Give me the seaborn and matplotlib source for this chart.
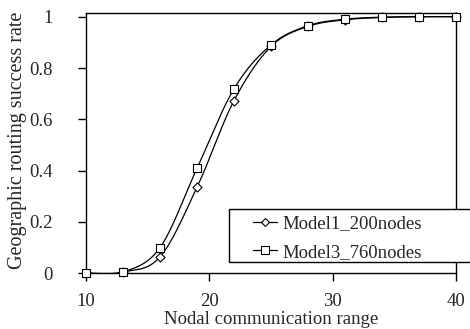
import numpy as np
import pandas as pd
import matplotlib
matplotlib.use("Agg")
import matplotlib.pyplot as plt
import seaborn as sns
from matplotlib.lines import Line2D
from matplotlib.patches import Rectangle

# Routing success rate versus nodal communication range
comm_range = [10, 13, 16, 19, 22, 25, 28, 31, 34, 37, 40]
model1_200 = [0.0, 0.005, 0.064, 0.335, 0.673, 0.884, 0.962, 0.988, 0.997, 1.0, 1.0]
model3_760 = [0.0, 0.005, 0.100, 0.409, 0.719, 0.890, 0.965, 0.990, 0.998, 1.0, 1.0]

series_names = ["Model1_200nodes", "Model3_760nodes"]
x_ticks = [10, 20, 30, 40]
y_ticks = [0, 0.2, 0.4, 0.6, 0.8, 1]
y_tick_labels = ["0", "0.2", "0.4", "0.6", "0.8", "1"]

df = pd.DataFrame({
    "range": comm_range * 2,
    "rate": model1_200 + model3_760,
    "series": [series_names[0]] * len(comm_range) + [series_names[1]] * len(comm_range),
})


def smooth_curve(x, y, n=30):
    """Catmull-Rom spline through the points (spreadsheet-style smoothed line)."""
    x = np.asarray(x, float)
    y = np.asarray(y, float)
    px = np.concatenate([[2 * x[0] - x[1]], x, [2 * x[-1] - x[-2]]])
    py = np.concatenate([[2 * y[0] - y[1]], y, [2 * y[-1] - y[-2]]])
    xs, ys = [], []
    t = np.linspace(0, 1, n, endpoint=False)
    for i in range(1, len(px) - 2):
        p0x, p1x, p2x, p3x = px[i - 1:i + 3]
        p0y, p1y, p2y, p3y = py[i - 1:i + 3]
        # cubic Bezier with control points at 1/6 of neighbour chords
        c1x, c1y = p1x + (p2x - p0x) / 6, p1y + (p2y - p0y) / 6
        c2x, c2y = p2x - (p3x - p1x) / 6, p2y - (p3y - p1y) / 6
        b = [(1 - t) ** 3, 3 * (1 - t) ** 2 * t, 3 * (1 - t) * t ** 2, t ** 3]
        xs.append(b[0] * p1x + b[1] * c1x + b[2] * c2x + b[3] * p2x)
        ys.append(b[0] * p1y + b[1] * c1y + b[2] * c2y + b[3] * p2y)
    xs.append([x[-1]])
    ys.append([y[-1]])
    return np.concatenate(xs), np.concatenate(ys)


sns.set_theme(style="white")
plt.rcParams["font.family"] = ["Liberation Serif", "DejaVu Serif"]
plt.rcParams["axes.edgecolor"] = "black"
plt.rcParams["axes.linewidth"] = 1.0

W, H = 470, 329
fig = plt.figure(figsize=(W / 100, H / 100), dpi=100)
ax = fig.add_axes([86 / W, 1 - 273.3 / H, (456 - 86) / W, (273.3 - 12.7) / H])

markers = {"Model1_200nodes": "D", "Model3_760nodes": "s"}
sizes = {"Model1_200nodes": 4.6, "Model3_760nodes": 6.0}

for name in series_names:
    sub = df[df["series"] == name]
    sx, sy = smooth_curve(sub["range"], sub["rate"])
    ax.plot(sx, sy, color="black", lw=0.9, zorder=2)
    sns.scatterplot(x=sub["range"], y=sub["rate"], ax=ax, marker=markers[name],
                    s=sizes[name] ** 2, facecolor="white", edgecolor="black",
                    linewidth=0.8, zorder=3, clip_on=False, legend=False)

ax.set_xlim(10, 40)
ax.set_ylim(0, 1.0155)
ax.set_xticks(x_ticks)
ax.set_yticks(y_ticks)
ax.set_yticklabels(y_tick_labels)
ax.tick_params(axis="both", which="both", direction="out", length=6, width=1,
               color="black", labelsize=13.5, bottom=True, left=True)
ax.tick_params(axis="x", pad=8)
ax.tick_params(axis="y", pad=18)
for sp in ax.spines.values():
    sp.set_visible(True)
    sp.set_color("black")

ax.set_xlabel("Nodal communication range", fontsize=13.5, labelpad=1)
ax.set_ylabel("Geographic routing success rate", fontsize=14.5)
ax.yaxis.set_label_coords(-0.16, 0.51)

# legend box: white panel running off the right edge of the figure
fig.patches.append(Rectangle((229 / W, 1 - 262 / H), (480 - 229) / W, 53 / H,
                             transform=fig.transFigure, facecolor="white",
                             edgecolor="black", linewidth=1.0, zorder=5))

handles = [
    Line2D([0], [0], color="black", lw=0.9, marker=markers[n], markersize=sizes[n] - 0.5,
           markerfacecolor="white", markeredgecolor="black", markeredgewidth=0.8)
    for n in series_names
]
leg = fig.legend(handles, series_names, loc="upper left",
                 bbox_to_anchor=(253 / W, 1 - 215 / H), frameon=False,
                 fontsize=13.5, handlelength=1.3, handletextpad=0.25,
                 borderpad=0, labelspacing=0.62, borderaxespad=0)
leg.set_zorder(6)

fig.savefig("out.png", dpi=100)
